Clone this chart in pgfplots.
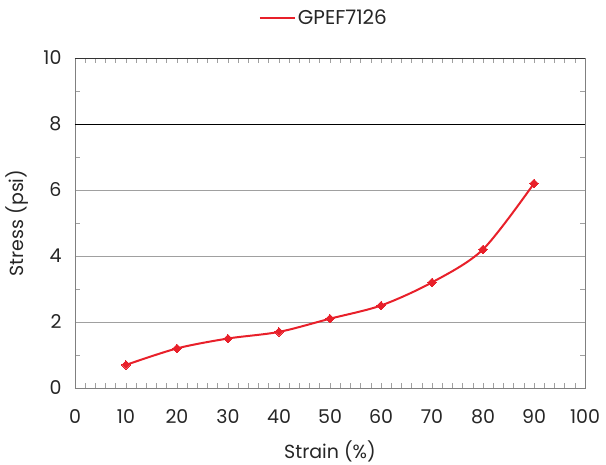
\documentclass[border=0pt]{standalone}
\usepackage{fontspec}
\setmainfont{Poppins}
\usepackage{pgfplots}
\pgfplotsset{compat=1.18}
\definecolor{lred}{HTML}{E8202A}
\definecolor{gridg}{HTML}{A0A0A0}
\begin{document}
\fontsize{19pt}{22pt}\selectfont
\begin{tikzpicture}
\useasboundingbox (-75pt,-76pt) rectangle (531pt,388pt);
\begin{axis}[
  at={(0,0)}, anchor=origin,
  scale only axis, width=510pt, height=330pt,
  xmin=0, xmax=100, ymin=0, ymax=10,
  xtick={0,10,...,100}, ytick={0,2,...,10},
  minor xtick={0,2,...,100}, minor ytick={1,3,...,9},
  tick align=inside,
  major tick length=5pt, minor tick length=5pt,
  every tick/.style={gridg, line width=0.6pt},
  ymajorgrids, major grid style={gridg, line width=0.8pt},
  axis line style={gridg!80!black, line width=0.8pt},
  /pgf/number format/assume math mode=true,
  ticklabel style={font=\fontsize{19pt}{22pt}\selectfont, text=black!85},
  label style={font=\fontsize{19pt}{22pt}\selectfont, text=black!85},
  xticklabel style={yshift=-15pt},
  yticklabel style={xshift=-7pt},
  xlabel={Strain (\%)}, ylabel={Stress (psi)},
  xlabel style={yshift=-4pt},
  ylabel style={yshift=2pt},
  legend style={draw=none, at={(axis description cs:0.488,1.121)}, anchor=center,
    font=\fontsize{20pt}{23pt}\selectfont, text=black!85, inner sep=0pt},
  legend cell align=left,
  legend image code/.code={\draw[lred, line width=2pt] (-4pt,0pt) -- (31pt,0pt);},
]
\addplot[lred, line width=2pt, smooth, tension=0.5, mark=square*, mark size=3pt,
  mark options={fill=lred, draw=lred, line width=0pt, rotate=45}]
  coordinates {(10,0.7) (20,1.2) (30,1.5) (40,1.7) (50,2.1) (60,2.5) (70,3.2) (80,4.2) (90,6.2)};
\addlegendentry{GPEF7126}
\draw[black, line width=1pt] (axis cs:0,8) -- (axis cs:100,8);
\draw[black!80, line width=1pt] (axis cs:0,10) -- (axis cs:100,10);
\end{axis}
\end{tikzpicture}
\end{document}
